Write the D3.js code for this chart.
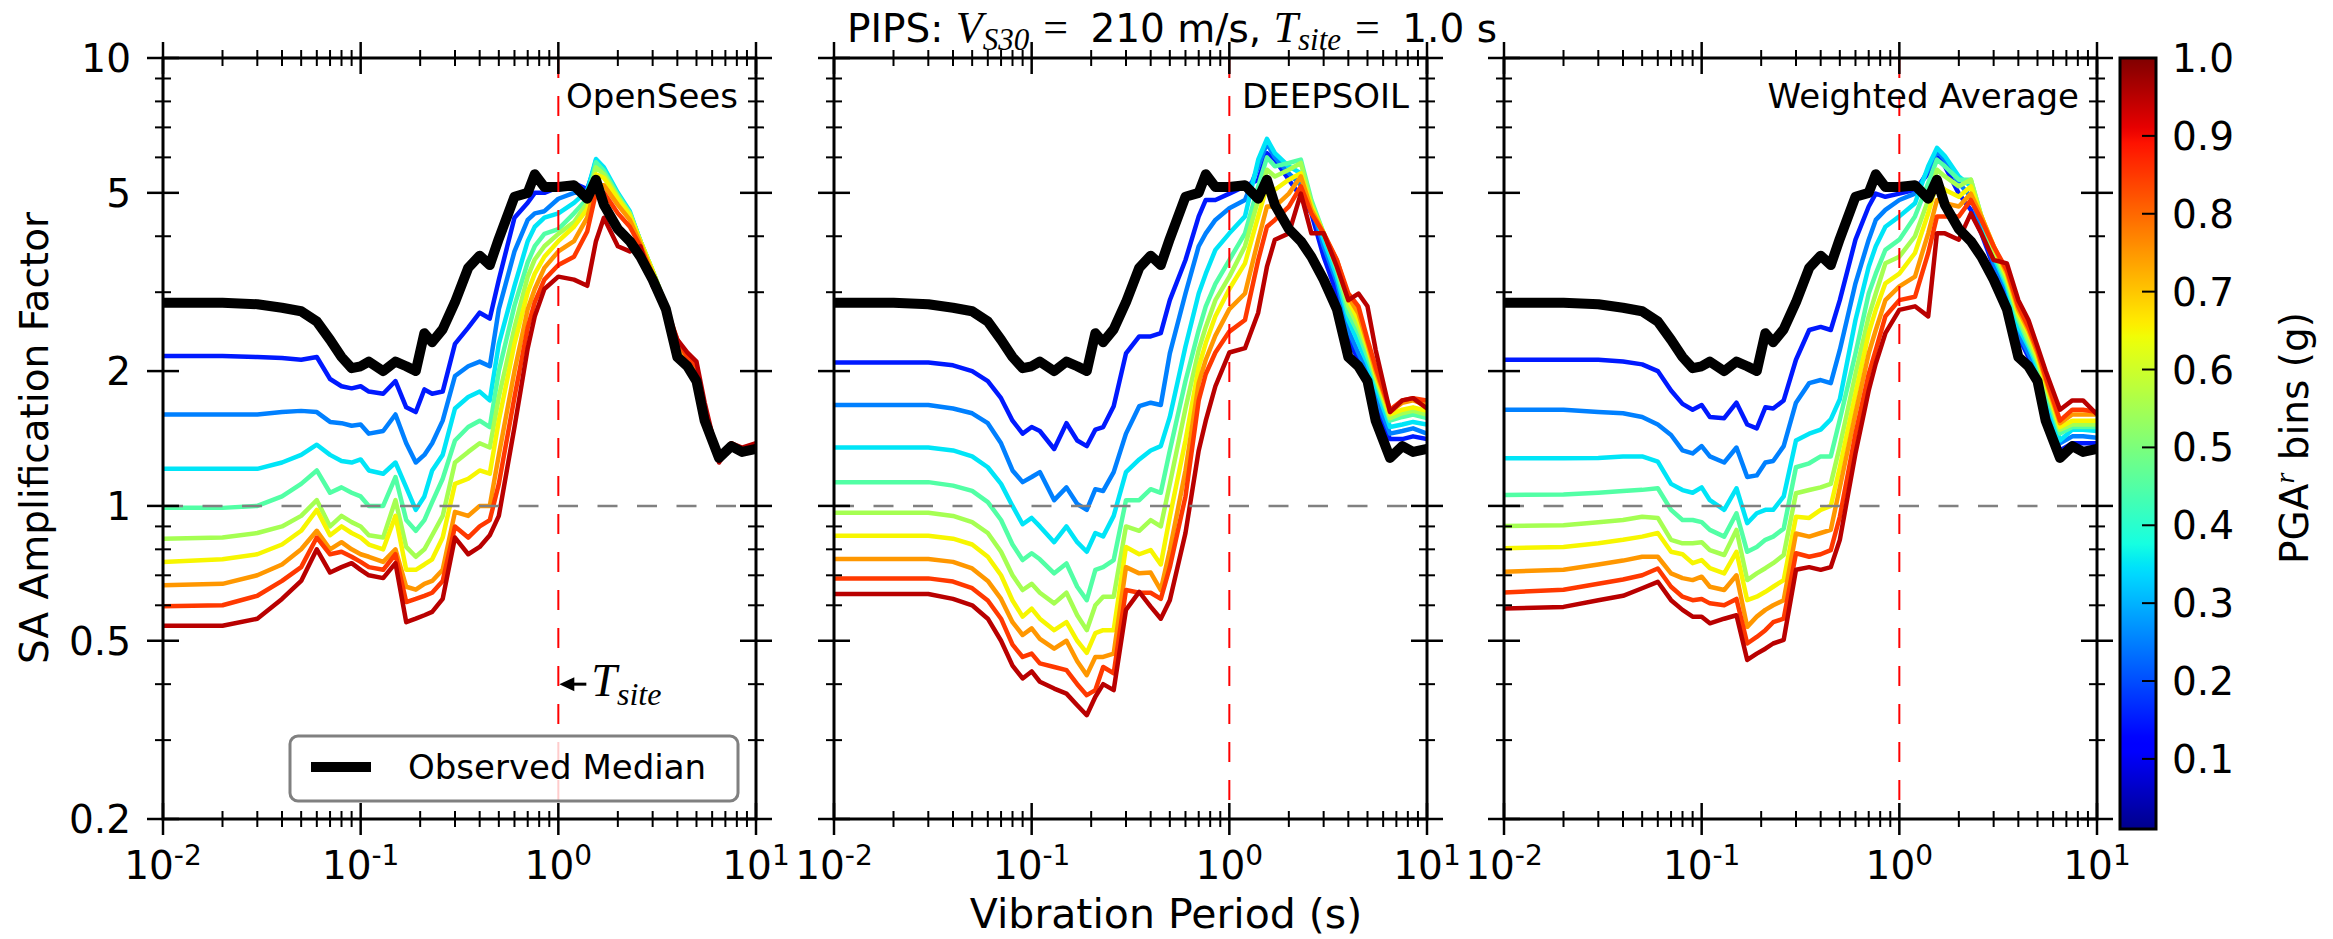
<!DOCTYPE html>
<html>
<head>
<meta charset="utf-8">
<script src="https://cdn.jsdelivr.net/npm/d3@7"></script>
<style>
  body { margin: 0; background: #fff; }
  svg { display: block; }
  text { font-family: "DejaVu Sans", sans-serif; fill: #000; }
  .math { font-family: "Liberation Serif", serif; font-style: italic; }
</style>
</head>
<body>
<svg id="chart" width="2333" height="939"></svg>
<script>
// ---- data ----
const periods = [0.01,0.02,0.03,0.04,0.05,0.06,0.07,0.08,0.09,0.1,
  0.11,0.13,0.15,0.17,0.19,0.21,0.23,0.26,0.3,0.35,
  0.4,0.45,0.5,0.6,0.7,0.76,0.85,1.0,1.2,1.4,
  1.55,1.7,2.0,2.3,2.6,3.0,3.5,4.0,4.5,5.0,
  5.5,6.5,7.5,8.5,10];

const observedMedian = [2.84,2.84,2.82,2.77,2.72,2.58,2.35,2.15,2.03,2.05,
  2.1,2.0,2.1,2.05,2.0,2.43,2.32,2.48,2.85,3.4,
  3.62,3.45,3.95,4.9,5.0,5.5,5.15,5.15,5.2,4.85,
  5.35,4.7,4.15,3.9,3.6,3.2,2.75,2.15,2.05,1.9,
  1.55,1.28,1.36,1.32,1.34];

// PGA^r bin centres (g) -> line colour
const binCentres = [0.15,0.25,0.35,0.45,0.55,0.65,0.75,0.85,0.95];

const openSeesBins = [
  [2.16,2.16,2.15,2.14,2.12,2.15,1.92,1.85,1.83,1.85, 1.8,1.78,1.9,1.66,1.62,1.82,1.78,1.8,2.3,2.5, 2.7,2.62,3.2,4.4,4.75,5.0,5.0,5.15,5.25,5.1, 5.8,5.5,4.75,4.4,3.8,3.3,2.8,2.3,2.1,2.0, 1.55,1.27,1.36,1.32,1.35],
  [1.6,1.6,1.6,1.62,1.63,1.62,1.54,1.53,1.51,1.52, 1.45,1.47,1.6,1.38,1.25,1.3,1.38,1.55,1.95,2.05, 2.1,2.05,2.75,3.7,4.35,4.5,4.55,4.85,5.0,5.0, 5.9,5.6,4.85,4.5,3.9,3.3,2.8,2.3,2.1,2.0, 1.57,1.27,1.37,1.33,1.35],
  [1.21,1.21,1.21,1.25,1.3,1.37,1.3,1.26,1.25,1.27, 1.2,1.18,1.25,1.1,0.98,1.05,1.2,1.3,1.65,1.75, 1.8,1.72,2.3,3.1,3.9,4.2,4.4,4.5,4.75,5.05, 5.95,5.7,5.0,4.55,3.9,3.35,2.8,2.3,2.1,2.0, 1.6,1.28,1.37,1.33,1.35],
  [0.99,0.99,1.0,1.05,1.12,1.2,1.07,1.1,1.07,1.05, 1.0,1.0,1.16,0.93,0.88,0.93,1.02,1.15,1.4,1.5, 1.55,1.5,2.0,2.8,3.5,3.8,4.05,4.15,4.5,4.85, 5.85,5.6,4.95,4.5,3.9,3.35,2.8,2.3,2.1,2.0, 1.6,1.28,1.37,1.33,1.35],
  [0.845,0.85,0.87,0.9,0.95,1.03,0.9,0.95,0.92,0.9, 0.86,0.85,1.03,0.81,0.77,0.8,0.86,0.95,1.25,1.32, 1.38,1.35,1.75,2.5,3.25,3.55,3.8,4.05,4.3,4.75, 5.7,5.5,4.9,4.5,3.9,3.35,2.8,2.3,2.1,2.0, 1.6,1.28,1.37,1.33,1.35],
  [0.75,0.76,0.78,0.82,0.88,0.98,0.86,0.9,0.87,0.85, 0.82,0.8,0.95,0.72,0.72,0.74,0.76,0.85,1.12,1.15, 1.2,1.18,1.55,2.3,3.0,3.3,3.6,3.9,4.2,4.6, 5.5,5.4,4.85,4.45,3.9,3.35,2.8,2.3,2.1,2.0, 1.6,1.28,1.37,1.33,1.35],
  [0.665,0.67,0.7,0.74,0.8,0.88,0.8,0.83,0.8,0.78, 0.77,0.75,0.8,0.66,0.65,0.67,0.68,0.72,0.97,0.95, 1.0,1.0,1.3,2.0,2.75,3.05,3.4,3.7,3.9,4.4, 5.2,5.2,4.7,4.35,3.85,3.3,2.8,2.3,2.1,2.02, 1.62,1.28,1.38,1.34,1.36],
  [0.597,0.6,0.63,0.68,0.73,0.85,0.78,0.79,0.77,0.75, 0.73,0.72,0.78,0.61,0.62,0.63,0.64,0.68,0.9,0.85, 0.9,0.93,1.12,1.75,2.5,2.85,3.2,3.45,3.6,4.1, 5.0,5.0,4.5,4.2,3.8,3.25,2.8,2.35,2.15,2.05, 1.65,1.28,1.38,1.34,1.37],
  [0.54,0.54,0.56,0.62,0.68,0.8,0.71,0.73,0.745,0.72, 0.7,0.69,0.745,0.55,0.56,0.57,0.58,0.62,0.85,0.78, 0.81,0.86,0.95,1.5,2.25,2.65,3.05,3.25,3.2,3.1, 3.9,4.4,3.8,3.7,3.8,3.1,2.75,2.35,2.2,2.1, 1.7,1.25,1.38,1.35,1.38]
];

const deepsoilBins = [
  [2.09,2.09,2.09,2.06,2.0,1.9,1.74,1.55,1.45,1.5, 1.47,1.34,1.53,1.4,1.36,1.48,1.5,1.67,2.19,2.39, 2.39,2.43,2.88,3.54,4.43,4.82,4.82,4.98,5.17,5.35, 6.13,5.93,5.35,4.9,4.5,3.6,2.98,2.35,2.12,1.88, 1.67,1.41,1.41,1.43,1.41],
  [1.68,1.68,1.68,1.65,1.61,1.53,1.38,1.2,1.13,1.16, 1.19,1.03,1.1,1.01,0.98,1.09,1.08,1.19,1.45,1.67, 1.7,1.68,2.19,2.98,3.8,4.06,4.35,4.62,4.82,5.73, 6.45,6.0,5.53,5.2,4.66,3.8,3.16,2.47,2.19,2.0, 1.75,1.45,1.47,1.49,1.45],
  [1.35,1.35,1.35,1.33,1.29,1.22,1.12,1.0,0.91,0.94, 0.9,0.83,0.9,0.83,0.79,0.87,0.855,0.95,1.19,1.27, 1.33,1.36,1.58,2.27,2.98,3.3,3.73,4.06,4.43,5.93, 6.6,6.13,5.73,5.53,4.74,3.93,3.25,2.6,2.31,2.08, 1.85,1.5,1.52,1.54,1.52],
  [1.13,1.13,1.13,1.11,1.08,1.02,0.93,0.82,0.757,0.784, 0.76,0.707,0.744,0.66,0.616,0.72,0.73,0.757,1.03,1.03, 1.09,1.07,1.33,1.9,2.47,2.79,3.13,3.54,4.06,5.17, 6.0,5.73,5.83,5.93,4.82,4.06,3.36,2.69,2.43,2.15, 1.91,1.55,1.58,1.6,1.57],
  [0.966,0.966,0.966,0.95,0.92,0.87,0.79,0.7,0.649,0.67, 0.64,0.606,0.64,0.57,0.528,0.6,0.627,0.627,0.9,0.88, 0.93,0.9,1.12,1.65,2.23,2.51,2.88,3.25,3.8,4.82, 5.63,5.44,5.63,5.83,4.74,4.06,3.42,2.79,2.51,2.23, 1.94,1.57,1.61,1.63,1.6],
  [0.858,0.858,0.858,0.845,0.82,0.77,0.7,0.615,0.566,0.59, 0.56,0.528,0.55,0.5,0.47,0.52,0.528,0.528,0.81,0.78, 0.797,0.74,0.946,1.4,2.04,2.31,2.65,3.05,3.48,4.43, 5.17,5.08,5.35,5.53,4.66,4.06,3.48,2.88,2.6,2.27, 1.97,1.6,1.64,1.66,1.63],
  [0.761,0.761,0.761,0.75,0.725,0.68,0.62,0.55,0.515,0.533, 0.505,0.48,0.5,0.45,0.419,0.46,0.46,0.468,0.73,0.707, 0.71,0.649,0.797,1.2,1.88,2.12,2.4,2.75,2.98,3.93, 4.66,4.66,4.98,5.44,4.58,4.06,3.54,2.93,2.69,2.31, 2.0,1.62,1.7,1.72,1.68],
  [0.689,0.689,0.689,0.678,0.655,0.615,0.56,0.49,0.46,0.468, 0.445,0.437,0.43,0.4,0.378,0.388,0.437,0.423,0.649,0.64, 0.64,0.62,0.73,1.05,1.72,1.97,2.2,2.45,2.6,3.54, 4.2,4.35,4.66,5.17,4.5,4.06,3.54,2.98,2.79,2.35, 2.04,1.64,1.72,1.74,1.72],
  [0.636,0.636,0.636,0.62,0.6,0.56,0.5,0.44,0.412,0.427, 0.405,0.391,0.381,0.359,0.341,0.375,0.4,0.388,0.586,0.643, 0.596,0.56,0.616,0.87,1.33,1.55,1.85,2.2,2.25,2.7, 3.42,3.93,4.06,4.98,4.06,4.06,3.42,2.88,2.98,2.79, 2.23,1.62,1.72,1.74,1.65]
];

const weightedBins = [
  [2.12,2.12,2.12,2.1,2.07,2.0,1.81,1.69,1.64,1.68, 1.58,1.57,1.7,1.52,1.49,1.66,1.65,1.72,2.12,2.47, 2.51,2.47,2.88,3.93,4.66,4.98,4.9,4.98,5.08,5.53, 6.04,5.73,4.98,4.58,4.06,3.42,2.98,2.39,2.15,1.91, 1.66,1.33,1.38,1.38,1.38],
  [1.64,1.64,1.62,1.61,1.58,1.52,1.44,1.33,1.31,1.36, 1.29,1.25,1.35,1.16,1.17,1.25,1.26,1.36,1.7,1.88, 1.91,1.88,2.23,3.14,3.93,4.35,4.58,4.82,4.98,5.63, 6.2,5.93,5.26,4.9,4.2,3.48,3.03,2.43,2.19,1.97, 1.72,1.38,1.43,1.43,1.42],
  [1.278,1.278,1.28,1.29,1.29,1.256,1.12,1.085,1.07,1.1, 1.03,0.98,1.095,0.915,0.963,0.98,0.98,1.05,1.4,1.45, 1.48,1.56,1.73,2.6,3.42,3.8,4.2,4.43,4.74,5.73, 6.3,6.04,5.44,5.17,4.35,3.6,3.09,2.51,2.27,2.04, 1.78,1.4,1.48,1.48,1.47],
  [1.058,1.06,1.07,1.08,1.086,1.095,0.98,0.93,0.93,0.92, 0.884,0.854,0.963,0.79,0.81,0.84,0.854,0.89,1.22,1.245, 1.29,1.29,1.56,2.19,2.98,3.3,3.73,3.93,4.43,5.26, 5.93,5.73,5.35,5.35,4.43,3.67,3.14,2.6,2.31,2.08, 1.81,1.45,1.5,1.5,1.5],
  [0.902,0.905,0.92,0.93,0.946,0.94,0.84,0.825,0.825,0.83, 0.797,0.777,0.884,0.683,0.707,0.726,0.745,0.777,1.067,1.085, 1.1,1.12,1.36,1.97,2.65,2.98,3.48,3.6,4.0,4.82, 5.63,5.44,5.17,5.35,4.43,3.73,3.2,2.65,2.35,2.12, 1.85,1.48,1.52,1.52,1.52],
  [0.804,0.81,0.825,0.84,0.854,0.87,0.79,0.78,0.745,0.757, 0.726,0.707,0.79,0.616,0.627,0.643,0.66,0.683,0.946,0.94, 0.98,1.0,1.22,1.78,2.43,2.74,3.14,3.3,3.67,4.5, 5.26,5.08,4.9,5.17,4.43,3.8,3.25,2.69,2.43,2.15, 1.88,1.5,1.55,1.55,1.55],
  [0.713,0.72,0.74,0.755,0.77,0.77,0.707,0.69,0.683,0.695, 0.66,0.649,0.7,0.537,0.566,0.586,0.6,0.616,0.868,0.854, 0.87,0.884,1.1,1.61,2.19,2.47,2.88,3.09,3.25,4.06, 4.82,4.74,4.66,4.98,4.43,3.8,3.31,2.74,2.47,2.19, 1.91,1.53,1.6,1.6,1.6],
  [0.641,0.65,0.67,0.685,0.7,0.725,0.66,0.627,0.616,0.62, 0.606,0.6,0.62,0.493,0.51,0.528,0.55,0.56,0.784,0.77, 0.78,0.797,0.946,1.45,1.97,2.23,2.65,2.88,2.93,3.67, 4.43,4.43,4.43,4.82,4.35,3.8,3.36,2.79,2.51,2.23, 1.94,1.55,1.64,1.64,1.62],
  [0.59,0.595,0.616,0.63,0.655,0.677,0.616,0.586,0.566,0.566, 0.547,0.56,0.57,0.453,0.468,0.48,0.493,0.502,0.72,0.73, 0.72,0.73,0.84,1.31,1.81,2.08,2.43,2.74,2.79,2.65, 4.06,4.06,3.93,4.5,4.06,3.54,3.48,2.88,2.6,2.27, 2.0,1.64,1.72,1.72,1.6]
];

const panelNames = ["OpenSees", "DEEPSOIL", "Weighted Average"];
const yMajorTicks = [0.2, 0.5, 1, 2, 5, 10];
const yTickLabels = ["0.2", "0.5", "1", "2", "5", "10"];
const yMinorTicks = [0.3, 0.4, 0.6, 0.7, 0.8, 0.9, 3, 4, 6, 7, 8, 9];
const xDecades = [-2, -1, 0, 1];
const colorbarTicks = [0.1, 0.2, 0.3, 0.4, 0.5, 0.6, 0.7, 0.8, 0.9, 1.0];
const siteRefPeriod = 1.0;
const unityAmplification = 1.0;
const annotationLevel = 0.4;

// ---- layout ----
const plotTop = 58, plotBottom = 819, panelWidth = 593;
const panelLefts = [163, 834, 1504];
const cbar = { x: 2120, w: 36, top: 58, bottom: 829 };

// matplotlib "jet" colormap
const jetR = d3.scaleLinear().domain([0, 0.35, 0.66, 0.89, 1]).range([0, 0, 1, 1, 0.5]).clamp(true);
const jetG = d3.scaleLinear().domain([0, 0.125, 0.375, 0.64, 0.91, 1]).range([0, 0, 1, 1, 0, 0]).clamp(true);
const jetB = d3.scaleLinear().domain([0, 0.11, 0.34, 0.65, 1]).range([0.5, 1, 1, 0, 0]).clamp(true);
const jet = t => d3.rgb(jetR(t) * 255, jetG(t) * 255, jetB(t) * 255).formatHex();

const svg = d3.select("#chart");
const defs = svg.append("defs");

const y = d3.scaleLog().domain([0.2, 10]).range([plotBottom, plotTop]);

const panels = [openSeesBins, deepsoilBins, weightedBins];

panels.forEach((bins, i) => {
  const left = panelLefts[i], right = left + panelWidth;
  const x = d3.scaleLog().domain([0.01, 10]).range([left, right]);
  const g = svg.append("g");

  defs.append("clipPath").attr("id", "clip" + i)
    .append("rect").attr("x", left).attr("y", plotTop)
    .attr("width", panelWidth).attr("height", plotBottom - plotTop);

  const lines = g.append("g").attr("clip-path", `url(#clip${i})`);
  const line = d3.line().x((d, j) => x(periods[j])).y(d => y(d));

  bins.forEach((series, k) => {
    lines.append("path")
      .attr("d", line(series))
      .attr("fill", "none")
      .attr("stroke", jet(binCentres[k]))
      .attr("stroke-width", 4.5)
      .attr("stroke-linejoin", "round");
  });

  lines.append("path")
    .attr("d", line(observedMedian))
    .attr("fill", "none")
    .attr("stroke", "#000")
    .attr("stroke-width", 10)
    .attr("stroke-linejoin", "round");

  // reference lines
  lines.append("line")
    .attr("x1", left).attr("x2", right)
    .attr("y1", y(unityAmplification)).attr("y2", y(unityAmplification))
    .attr("stroke", "#808080").attr("stroke-width", 2.5)
    .attr("stroke-dasharray", "20,19.5");

  lines.append("line")
    .attr("x1", x(siteRefPeriod)).attr("x2", x(siteRefPeriod))
    .attr("y1", plotTop).attr("y2", plotBottom)
    .attr("stroke", "#ff0000").attr("stroke-width", 2)
    .attr("stroke-dasharray", "20,18");

  // frame
  g.append("rect")
    .attr("x", left).attr("y", plotTop)
    .attr("width", panelWidth).attr("height", plotBottom - plotTop)
    .attr("fill", "none").attr("stroke", "#000").attr("stroke-width", 3);

  // x ticks (top and bottom, in-out)
  const ticks = g.append("g").attr("stroke", "#000");
  xDecades.forEach(e => {
    const base = Math.pow(10, e);
    [plotTop, plotBottom].forEach(yy => {
      ticks.append("line").attr("x1", x(base)).attr("x2", x(base))
        .attr("y1", yy - 16).attr("y2", yy + 16).attr("stroke-width", 2.5);
    });
    if (e < 1) {
      for (let m = 2; m <= 9; m++) {
        const v = m * base;
        [plotTop, plotBottom].forEach(yy => {
          ticks.append("line").attr("x1", x(v)).attr("x2", x(v))
            .attr("y1", yy - 8).attr("y2", yy + 8).attr("stroke-width", 2);
        });
      }
    }
    const lab = g.append("text")
      .attr("x", x(base)).attr("y", 879)
      .attr("text-anchor", "middle")
      .attr("font-size", 39);
    lab.append("tspan").text("10");
    lab.append("tspan").attr("dy", -14).attr("font-size", 28).text(e < 0 ? "-" + (-e) : String(e));
  });

  // y ticks (left and right)
  yMajorTicks.forEach(v => {
    [left, right].forEach(xx => {
      ticks.append("line").attr("x1", xx - 16).attr("x2", xx + 16)
        .attr("y1", y(v)).attr("y2", y(v)).attr("stroke-width", 2.5);
    });
  });
  yMinorTicks.forEach(v => {
    [left, right].forEach(xx => {
      ticks.append("line").attr("x1", xx - 8).attr("x2", xx + 8)
        .attr("y1", y(v)).attr("y2", y(v)).attr("stroke-width", 2);
    });
  });

  if (i === 0) {
    yMajorTicks.forEach((v, k) => {
      g.append("text")
        .attr("x", 131).attr("y", y(v) + 14)
        .attr("text-anchor", "end")
        .attr("font-size", 39)
        .text(yTickLabels[k]);
    });
  }

  // panel name
  g.append("text")
    .attr("x", right - 18).attr("y", 108)
    .attr("text-anchor", "end")
    .attr("font-size", 34)
    .text(panelNames[i]);

  if (i === 0) {
    // T_site annotation
    const ax = x(siteRefPeriod), ay = y(annotationLevel);
    g.append("line").attr("x1", ax + 10).attr("x2", ax + 28)
      .attr("y1", ay).attr("y2", ay).attr("stroke", "#000").attr("stroke-width", 3);
    g.append("path")
      .attr("d", `M${ax + 1},${ay} L${ax + 16},${ay - 7} L${ax + 16},${ay + 7} Z`)
      .attr("fill", "#000");
    const tl = g.append("text").attr("x", ax + 33).attr("y", ay + 12).attr("class", "math").attr("font-size", 46);
    tl.append("tspan").text("T");
    tl.append("tspan").attr("dy", 9).attr("font-size", 32).text("site");

    // legend
    const lg = g.append("g");
    lg.append("rect")
      .attr("x", 290).attr("y", 736).attr("width", 448).attr("height", 65).attr("rx", 8)
      .attr("fill", "#fff").attr("fill-opacity", 0.8)
      .attr("stroke", "#808080").attr("stroke-width", 3);
    lg.append("line").attr("x1", 311).attr("x2", 371).attr("y1", 767).attr("y2", 767)
      .attr("stroke", "#000").attr("stroke-width", 10);
    lg.append("text").attr("x", 408).attr("y", 779).attr("font-size", 34).text("Observed Median");
  }
});

// axis labels
svg.append("text")
  .attr("transform", "translate(48,438) rotate(-90)")
  .attr("text-anchor", "middle")
  .attr("font-size", 39)
  .text("SA Amplification Factor");

svg.append("text")
  .attr("x", 1166).attr("y", 928)
  .attr("text-anchor", "middle")
  .attr("font-size", 41)
  .text("Vibration Period (s)");

// title
const title = svg.append("text")
  .attr("x", 1172).attr("y", 42)
  .attr("text-anchor", "middle")
  .attr("font-size", 39);
title.append("tspan").text("PIPS: ");
title.append("tspan").attr("class", "math").attr("font-size", 44).text("V");
title.append("tspan").attr("class", "math").attr("font-size", 31).attr("dy", 8).text("S30");
title.append("tspan").attr("font-family", "Liberation Serif").attr("font-size", 44).attr("dy", -8).attr("dx", 14).text("=");
title.append("tspan").attr("dx", 10).text(" 210 m/s, ");
title.append("tspan").attr("class", "math").attr("font-size", 44).text("T");
title.append("tspan").attr("class", "math").attr("font-size", 31).attr("dy", 8).text("site");
title.append("tspan").attr("font-family", "Liberation Serif").attr("font-size", 44).attr("dy", -8).attr("dx", 14).text("=");
title.append("tspan").attr("dx", 10).text(" 1.0 s");

// colorbar
const cy = d3.scaleLinear().domain([0.01, 1.0]).range([cbar.bottom, cbar.top]);
const grad = defs.append("linearGradient").attr("id", "jetGrad")
  .attr("x1", 0).attr("y1", 1).attr("x2", 0).attr("y2", 0);
d3.range(0, 1.0001, 0.01).forEach(t => {
  grad.append("stop").attr("offset", t).attr("stop-color", jet(0.01 + t * 0.99));
});
svg.append("rect")
  .attr("x", cbar.x).attr("y", cbar.top)
  .attr("width", cbar.w).attr("height", cbar.bottom - cbar.top)
  .attr("fill", "url(#jetGrad)")
  .attr("stroke", "#000").attr("stroke-width", 3);
colorbarTicks.forEach(v => {
  svg.append("line")
    .attr("x1", cbar.x + cbar.w - 14).attr("x2", cbar.x + cbar.w)
    .attr("y1", cy(v)).attr("y2", cy(v))
    .attr("stroke", "#000").attr("stroke-width", 2);
  svg.append("text")
    .attr("x", 2172).attr("y", cy(v) + 14)
    .attr("font-size", 39)
    .text(v.toFixed(1));
});
const cbLabel = svg.append("text")
  .attr("transform", "translate(2308,438) rotate(-90)")
  .attr("text-anchor", "middle")
  .attr("font-size", 39);
cbLabel.append("tspan").text("PGA");
cbLabel.append("tspan").attr("class", "math").attr("font-size", 28).attr("dy", -14).text("r");
cbLabel.append("tspan").attr("dy", 14).text(" bins (g)");
</script>
</body>
</html>
